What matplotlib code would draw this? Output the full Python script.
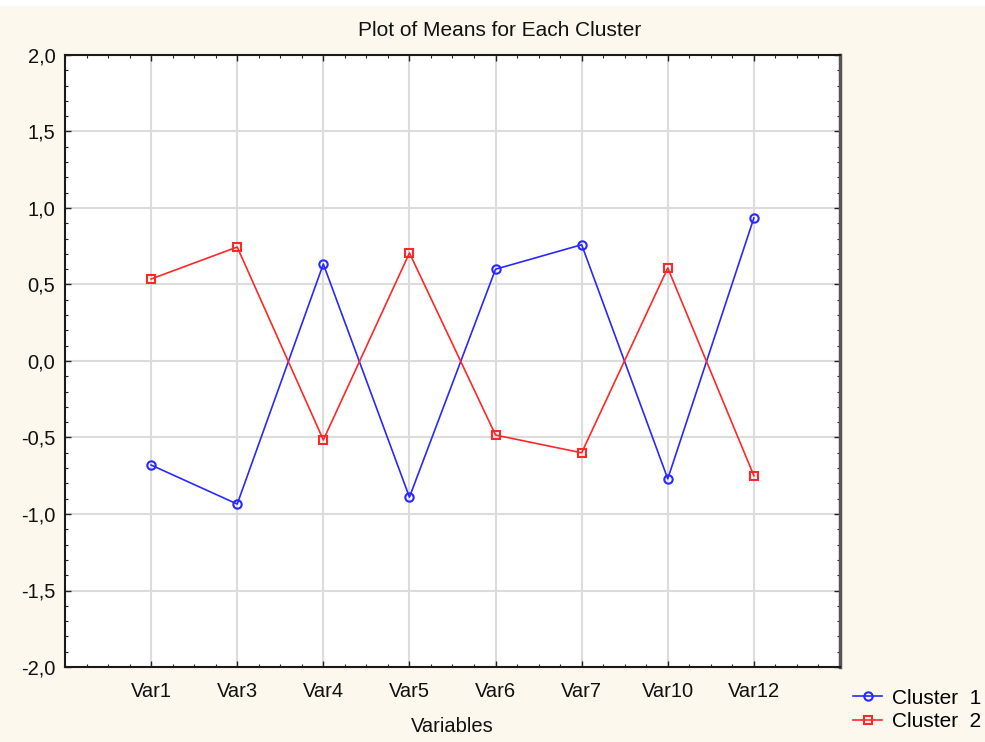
import matplotlib
matplotlib.use('Agg')
import matplotlib.pyplot as plt
from matplotlib.patches import Rectangle
from matplotlib.ticker import MultipleLocator, FuncFormatter

plt.rcParams['font.family'] = ['Liberation Sans', 'DejaVu Sans']

variables = ['Var1', 'Var3', 'Var4', 'Var5', 'Var6', 'Var7', 'Var10', 'Var12']
cluster1 = [-0.68, -0.935, 0.634, -0.89, 0.60, 0.76, -0.77, 0.935]
cluster2 = [0.536, 0.745, -0.516, 0.706, -0.484, -0.60, 0.608, -0.75]

bg = '#fdf8ee'
fig = plt.figure(figsize=(9.85, 7.42), dpi=100, facecolor=bg)
# white strip along the top edge
fig.patches.append(Rectangle((0, 1 - 6 / 742), 1, 6 / 742, transform=fig.transFigure,
                             facecolor='white', edgecolor='none', zorder=0))
ax = fig.add_axes([65 / 985, 75 / 742, 775 / 985, 612 / 742])
ax.set_facecolor('white')

x = list(range(len(variables)))
ax.plot(x, cluster1, color='#2828ff', linewidth=1.2, marker='o', markersize=6,
        markerfacecolor='none', markeredgewidth=1.5, label='Cluster  1', zorder=3)
ax.plot(x, cluster2, color='#ff2828', linewidth=1.2, marker='s', markersize=6,
        markerfacecolor='none', markeredgewidth=1.5, label='Cluster  2', zorder=3)

ax.set_xlim(-1, 8)
ax.set_ylim(-2, 2)
ax.set_xticks(x)
ax.set_xticklabels(variables)
ax.xaxis.set_minor_locator(MultipleLocator(0.25))
ax.yaxis.set_major_locator(MultipleLocator(0.5))
ax.yaxis.set_minor_locator(MultipleLocator(0.1))
ax.yaxis.set_major_formatter(FuncFormatter(lambda v, p: f'{v:.1f}'.replace('.', ',')))

ax.grid(which='major', color='#dcdcdc', linewidth=1.5, zorder=0)
ax.set_axisbelow(True)
ax.tick_params(which='both', direction='in', top=True, right=True, labelsize=14.5,
               colors='#222222', labelcolor='#111111')
ax.tick_params(which='major', length=4, width=1)
ax.tick_params(which='minor', length=2.5, width=0.8)
ax.tick_params(axis='x', pad=11)
ax.tick_params(axis='y', pad=7)

for side in ['left', 'bottom', 'top']:
    ax.spines[side].set_color('#1a1a1a')
    ax.spines[side].set_linewidth(1.5)
ax.spines['right'].set_color('#555555')
ax.spines['right'].set_linewidth(2.5)

fig.text(500 / 985, 1 - 30 / 742, 'Plot of Means for Each Cluster', fontsize=15,
         color='#111111', ha='center', va='center')
ax.set_xlabel('Variables', fontsize=14.5, color='#111111', labelpad=11)

fig.legend(loc='center left', bbox_to_anchor=(853 / 985, 1 - 710 / 742), frameon=False,
           fontsize=15, handlelength=1.4, handletextpad=0.45, labelspacing=0.22,
           borderaxespad=0, borderpad=0)

fig.savefig('out.png', dpi=100, facecolor=bg)
